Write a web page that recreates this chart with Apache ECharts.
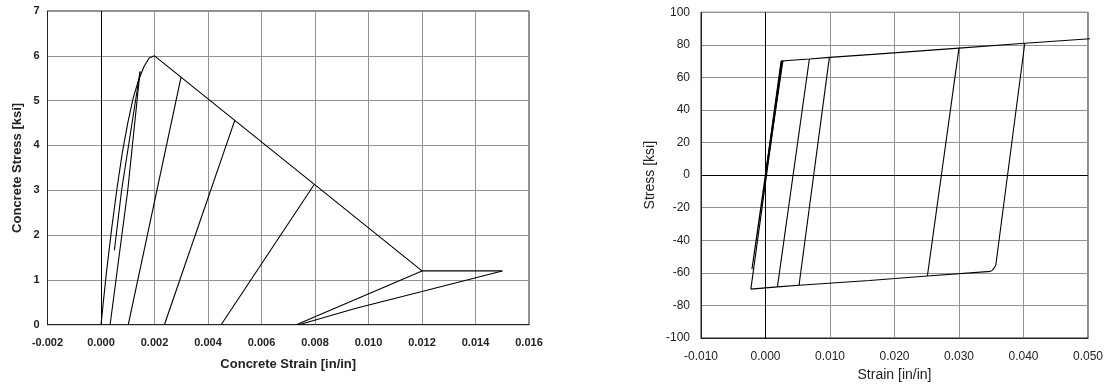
<!DOCTYPE html>
<html>
<head>
<meta charset="utf-8">
<script src="https://cdn.jsdelivr.net/npm/echarts@6/dist/echarts.min.js"></script>
<style>
  html, body { margin: 0; padding: 0; background: #fff; }
  #chart { width: 1106px; height: 387px; }
</style>
</head>
<body>
<div id="chart"></div>
<script>
// ---- Concrete: stress-strain history (strain in/in, stress ksi) ----
const concreteEnvelope = [[0,0],[0.0002,1.15],[0.0004,2.15],[0.0006,3.05],[0.0008,3.85],[0.001,4.5],[0.0012,5.05],[0.0014,5.45],[0.0016,5.75],[0.0018,5.95],[0.002,6.0],[0.012,1.2],[0.015,1.2]];
const concreteUnload1 = [[0.00034,0],[0.001,3.0],[0.00146,5.65]];
const concreteUnload1b = [[0.0005,1.66],[0.00077,3.0],[0.00146,5.65]];
const concreteUnload2 = [[0.00299,5.52],[0.00102,0]];
const concreteUnload3 = [[0.005,4.56],[0.00237,0]];
const concreteUnload4 = [[0.00797,3.13],[0.00449,0]];
const concreteUnload5 = [[0.012,1.2],[0.0073,0]];
const concreteUnload6 = [[0.015,1.2],[0.012,0.74],[0.0095,0.36],[0.0074,0]];
const concreteBranches = [concreteEnvelope, concreteUnload1, concreteUnload1b, concreteUnload2, concreteUnload3, concreteUnload4, concreteUnload5, concreteUnload6];

// ---- Reinforcing steel: cyclic stress-strain history ----
const steelInitial = [[0,0],[0.0024,69.8],[0.0027,70.2]];
const steelCycleSmall = [[0.0027,70.2],[-0.0021,-57.7],[0.0025,70.0]];
const steelUpper = [[0.0025,70.0],[0.0035,70.4],[0.0068,71.3],[0.0099,72.3],[0.0161,74.0],[0.030,78.0],[0.0402,81.0],[0.0506,83.8]];
const steelLower = [[-0.00227,-70.0],[0.00185,-68.6],[0.0052,-67.6],[0.0161,-64.7],[0.0251,-61.9],[0.0349,-59.1]];
const steelUnload1 = [[0.0068,71.3],[0.00185,-68.6]];
const steelUnload2 = [[0.0099,72.3],[0.0052,-67.6]];
const steelUnload3 = [[0.030,78.0],[0.0251,-61.9]];
const steelUnload4 = [[0.0402,81.0],[0.0357,-55.5],[0.0352,-58.3],[0.0349,-59.1]];
const steelReload = [[-0.00227,-70.0],[-0.00216,-69.0],[0.0026,70.3]];
const steelBranches = [steelInitial, steelCycleSmall, steelUpper, steelLower, steelUnload1, steelUnload2, steelUnload3, steelUnload4, steelReload];

// ---- Axis settings ----
const concreteStrainTicks = { min: -0.002, max: 0.016, interval: 0.002 };
const concreteStressTicks = { min: 0, max: 7, interval: 1 };
const steelStrainTicks = { min: -0.010, max: 0.050, interval: 0.010 };
const steelStressTicks = { min: -100, max: 100, interval: 20 };

const FONT = '"Liberation Sans", Arial, sans-serif';
const gridLine = { show: true, lineStyle: { color: '#929292', width: 1 } };

function branchSeries(branches, axisIndex, zeroLines) {
  return branches.map((pts, i) => {
    const s = {
      type: 'line',
      xAxisIndex: axisIndex,
      yAxisIndex: axisIndex,
      data: pts,
      showSymbol: false,
      symbol: 'none',
      silent: true,
      animation: false,
      lineStyle: { color: '#000', width: 1.1 },
      z: 5
    };
    if (i === 0) {
      s.markLine = {
        silent: true,
        symbol: 'none',
        label: { show: false },
        lineStyle: { color: '#000', width: 1, type: 'solid' },
        data: zeroLines,
        z: 3
      };
    }
    return s;
  });
}

const chart = echarts.init(document.getElementById('chart'), null, { renderer: 'canvas' });

chart.setOption({
  backgroundColor: '#fff',
  animation: false,
  grid: [
    { left: 47.5, right: 577, top: 11, bottom: 62.3, show: true, borderColor: '#222', borderWidth: 1 },
    { left: 701, right: 16, top: 12.3, bottom: 45.3, show: true, borderColor: '#222', borderWidth: 1 }
  ],
  xAxis: [
    {
      gridIndex: 0, type: 'value', ...concreteStrainTicks,
      name: 'Concrete Strain [in/in]', nameLocation: 'middle', nameGap: 33,
      nameTextStyle: { fontFamily: FONT, fontSize: 13, fontWeight: 'bold', color: '#222' },
      axisLine: { show: true, onZero: false, lineStyle: { color: '#222' } },
      axisTick: { show: false },
      axisLabel: { fontFamily: FONT, fontSize: 11, fontWeight: 'bold', color: '#222', margin: 13,
        formatter: v => v.toFixed(3) },
      splitLine: gridLine
    },
    {
      gridIndex: 1, type: 'value', ...steelStrainTicks,
      name: 'Strain [in/in]', nameLocation: 'middle', nameGap: 30,
      nameTextStyle: { fontFamily: FONT, fontSize: 14, color: '#222' },
      axisLine: { show: true, onZero: false, lineStyle: { color: '#222' } },
      axisTick: { show: false },
      axisLabel: { fontFamily: FONT, fontSize: 12, color: '#222', margin: 13,
        formatter: v => v.toFixed(3) },
      splitLine: gridLine
    }
  ],
  yAxis: [
    {
      gridIndex: 0, type: 'value', ...concreteStressTicks,
      name: 'Concrete Stress [ksi]', nameLocation: 'middle', nameGap: 24,
      nameTextStyle: { fontFamily: FONT, fontSize: 13, fontWeight: 'bold', color: '#222' },
      axisLine: { show: true, onZero: false, lineStyle: { color: '#222' } },
      axisTick: { show: false },
      axisLabel: { fontFamily: FONT, fontSize: 11, fontWeight: 'bold', color: '#222', margin: 8 },
      splitLine: gridLine
    },
    {
      gridIndex: 1, type: 'value', ...steelStressTicks,
      name: 'Stress [ksi]', nameLocation: 'middle', nameGap: 44,
      nameTextStyle: { fontFamily: FONT, fontSize: 14, color: '#222' },
      axisLine: { show: true, onZero: false, lineStyle: { color: '#222' } },
      axisTick: { show: false },
      axisLabel: { fontFamily: FONT, fontSize: 12, color: '#222', margin: 11 },
      splitLine: gridLine
    }
  ],
  series: [
    ...branchSeries(concreteBranches, 0, [{ xAxis: 0 }]),
    ...branchSeries(steelBranches, 1, [{ xAxis: 0 }, { yAxis: 0 }])
  ]
});
</script>
</body>
</html>
